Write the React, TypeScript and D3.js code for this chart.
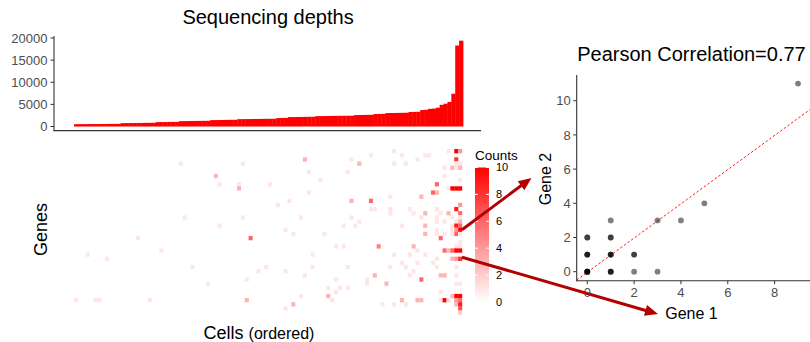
import React from 'react'
import * as d3 from 'd3'

const FONT = '"Liberation Sans", Arial, Helvetica, sans-serif'

// sequencing depth per cell, sorted ascending
const depths = [
  520, 530, 540, 545, 550, 560, 565, 570, 580, 585, 590, 600,
  760, 770, 780, 790, 800, 810, 820, 830, 840,
  990, 1000, 1010, 1030, 1040, 1050,
  1210, 1220, 1230, 1250, 1260, 1270, 1280, 1290,
  1440, 1450, 1470, 1480, 1500, 1510, 1520,
  1660, 1670, 1680, 1690, 1700, 1710, 1720, 1730, 1740, 1750,
  1910, 1930, 1950,
  2120, 2130, 2150, 2160, 2170, 2190, 2200,
  2340, 2350, 2360, 2380, 2390, 2400, 2410, 2420, 2430, 2440,
  2580, 2600, 2610, 2630, 2650,
  2820, 2840, 2860,
  3030, 3050, 3060, 3080, 3090, 3110,
  3280, 3300, 3320,
  3720, 3780, 3990, 4050, 4250, 4900, 5150, 5550, 7400, 18300, 19400,
]
const depthTicks = [0, 5000, 10000, 15000, 20000]

// non-zero heatmap cells: [cell (column), gene (row), count]
const N_CELLS = 100
const N_GENES = 40
const counts: [number, number, number][] = [
  [27, 3, 1], [28, 16, 1], [16, 21, 1], [22, 24, 1], [3, 25, 1], [8, 26, 1], [30, 28, 1],
  [0, 36, 1], [5, 36, 1], [6, 36, 1], [19, 36, 1],
  [59, 2, 3], [43, 3, 1], [60, 5, 1], [36, 6, 3], [63, 7, 1], [37, 8, 1], [42, 8, 1], [42, 9, 3],
  [50, 8, 1], [60, 10, 1], [55, 12, 1], [52, 13, 1], [43, 16, 1], [58, 16, 1], [37, 18, 1],
  [54, 19, 1], [45, 21, 6], [56, 20, 1], [64, 20, 1], [61, 25, 1], [49, 28, 1], [61, 28, 1],
  [47, 29, 1], [54, 29, 1], [59, 30, 1], [34, 32, 1], [44, 31, 1], [65, 33, 1], [65, 35, 3],
  [58, 35, 1], [44, 36, 3], [56, 37, 3], [54, 38, 1],
  [82, 0, 1], [76, 1, 1], [71, 2, 1], [73, 3, 3], [82, 3, 1], [70, 5, 1], [81, 11, 1], [71, 12, 3],
  [76, 12, 6], [76, 14, 1], [77, 14, 1], [81, 14, 1], [81, 15, 1], [71, 16, 1], [73, 17, 1],
  [69, 18, 1], [72, 18, 1], [67, 23, 1], [69, 23, 1], [78, 23, 5], [82, 25, 1], [70, 28, 1],
  [81, 28, 1], [77, 30, 3], [67, 31, 1], [75, 31, 1], [75, 32, 1], [80, 32, 3], [68, 33, 1],
  [70, 33, 1], [67, 34, 1], [66, 36, 1], [79, 37, 1], [82, 37, 1],
  [96, 0, 1], [98, 0, 10], [99, 0, 4],
  [84, 1, 1], [90, 1, 1], [91, 1, 1],
  [88, 2, 1], [98, 2, 8],
  [85, 3, 1], [98, 3, 1], [99, 3, 1],
  [95, 4, 1], [97, 4, 3], [98, 4, 1], [99, 4, 3],
  [95, 6, 1], [99, 7, 1], [93, 8, 6],
  [96, 9, 1], [97, 9, 10], [98, 9, 10], [99, 9, 10],
  [92, 10, 6], [93, 10, 3], [89, 11, 3], [99, 13, 4],
  [86, 14, 1], [93, 14, 1], [98, 14, 9],
  [87, 15, 1], [90, 15, 3], [94, 15, 1], [96, 15, 3], [99, 15, 6],
  [89, 16, 1], [93, 16, 1], [97, 16, 1], [99, 16, 1],
  [93, 17, 1], [95, 17, 1], [98, 17, 1], [99, 17, 3],
  [84, 18, 1], [90, 18, 3], [97, 18, 1], [98, 18, 9], [99, 18, 6],
  [93, 19, 1], [97, 19, 1], [98, 19, 4], [99, 19, 10],
  [90, 20, 3], [93, 20, 1], [95, 20, 1], [97, 20, 1], [98, 20, 6], [99, 20, 1],
  [94, 21, 6], [99, 22, 1],
  [87, 23, 3], [98, 23, 1], [99, 23, 1],
  [88, 24, 1], [95, 24, 6], [96, 24, 3], [97, 24, 6], [98, 24, 10], [99, 24, 10],
  [86, 25, 1], [90, 25, 1],
  [93, 26, 1], [97, 26, 3], [98, 26, 4], [99, 26, 8],
  [84, 27, 1], [88, 27, 1], [92, 27, 1],
  [85, 28, 1], [93, 28, 1], [98, 28, 1], [87, 29, 1],
  [86, 30, 1], [94, 30, 3], [95, 30, 3], [98, 30, 1],
  [89, 31, 6], [98, 32, 1], [99, 32, 1], [94, 34, 1],
  [97, 35, 3], [98, 35, 10], [99, 35, 10],
  [84, 36, 3], [88, 36, 3], [89, 36, 3], [94, 36, 1], [95, 36, 10], [96, 36, 1], [98, 36, 4], [99, 36, 6],
  [85, 37, 1], [98, 37, 3], [99, 37, 9],
  [99, 38, 7], [99, 39, 2],
]
const countTicks = [0, 2, 4, 6, 8, 10]

// expression of the two highlighted genes across cells
const gene1 = [0, 0, 0, 0, 0, 0, 0, 0, 0, 0, 1, 1, 1, 1, 1, 1, 1, 1, 1, 2, 2, 2, 3, 3, 4, 5, 9]
const gene2 = [0, 0, 0, 0, 0, 1, 1, 1, 2, 2, 0, 0, 0, 1, 1, 1, 2, 2, 3, 0, 1, 1, 0, 3, 3, 4, 11]
const geneXTicks = [0, 2, 4, 6, 8]
const geneYTicks = [0, 2, 4, 6, 8, 10]
const fitSlope = 1.0
const fitIntercept = -0.03

const ARROW = '#b30000'

function arrowHead(x1: number, y1: number, x2: number, y2: number, len = 13, half = 5.5) {
  const a = Math.atan2(y2 - y1, x2 - x1)
  const bx = x2 - len * Math.cos(a), by = y2 - len * Math.sin(a)
  const px = -Math.sin(a) * half, py = Math.cos(a) * half
  return {
    head: `M${x2},${y2}L${bx + px},${by + py}L${bx - px},${by - py}Z`,
    lineEnd: [x2 - (len - 2) * Math.cos(a), y2 - (len - 2) * Math.sin(a)],
  }
}

export default function App() {
  // depth bars
  const xb = d3.scaleBand<number>().domain(d3.range(depths.length)).range([74, 463])
  const yb = d3.scaleLinear().domain([0, 20000]).range([126.5, 38])

  // heatmap
  const xh = d3.scaleBand<number>().domain(d3.range(N_CELLS)).range([74, 462])
  const yh = d3.scaleBand<number>().domain(d3.range(N_GENES)).range([149, 314.6])
  const fill = d3.scaleLinear<string>().domain([0, 10]).range(['#ffffff', '#ff0000'])
  const ly = d3.scaleLinear().domain([0, 10]).range([302, 167.5])

  // scatter
  const sx = d3.scaleLinear().domain([0, 8]).range([587.3, 774.6])
  const sy = d3.scaleLinear().domain([0, 10]).range([271.7, 100.7])
  const pL = 576.7, pR = 810, pT = 75, pB = 280.7
  const fx0 = sx.invert(pL), fx1 = sx.invert(pR)

  const a1s: [number, number] = [xh(99)! + xh.bandwidth(), yh(19)! + yh.bandwidth() / 2]
  const a2s: [number, number] = [xh(99)! + xh.bandwidth(), yh(26)! + yh.bandwidth() / 2 - 1.5]
  const a1 = arrowHead(a1s[0], a1s[1], 531.5, 178)
  const a2 = arrowHead(a2s[0], a2s[1], 658, 314)

  const axisCol = '#333333'
  const tickCol = '#4d4d4d'

  return (
    <svg width={810} height={342} style={{ position: 'absolute', left: 0, top: 0, background: '#fff' }}
      fontFamily={FONT}>
      <defs>
        <linearGradient id="cg" x1="0" y1="1" x2="0" y2="0">
          {d3.range(0, 11).map(v => <stop key={v} offset={v / 10} stopColor={fill(v)} />)}
        </linearGradient>
        <clipPath id="panel"><rect x={pL} y={pT} width={pR - pL} height={pB - pT} /></clipPath>
      </defs>

      {/* sequencing depths */}
      <text x={268} y={23.5} fontSize={20} textAnchor="middle" fill="#000">Sequencing depths</text>
      {depths.map((d, i) => (
        <rect key={i} x={xb(i)} y={yb(d)} width={xb.bandwidth() + 0.4} height={yb(0) - yb(d)} fill="#ff0000" />
      ))}
      <line x1={54} x2={54} y1={36} y2={131} stroke={axisCol} strokeWidth={1.1} />
      <line x1={53.5} x2={481} y1={130.6} y2={130.6} stroke={axisCol} strokeWidth={1.1} />
      {depthTicks.map(t => (
        <g key={t}>
          <line x1={50.5} x2={54} y1={yb(t)} y2={yb(t)} stroke={axisCol} />
          <text x={47.5} y={yb(t)} dy="0.36em" fontSize={13} textAnchor="end" fill={tickCol}>{t}</text>
        </g>
      ))}

      {/* heatmap */}
      {counts.map(([c, g, v], i) => (
        <rect key={i} x={xh(c)} y={yh(g)} width={xh.bandwidth() + 0.2} height={yh.bandwidth() + 0.2} fill={fill(v)} />
      ))}
      <text transform="translate(46.5,229.5) rotate(-90)" fontSize={18} textAnchor="middle" fill="#000">Genes</text>
      <text x={259} y={338.5} textAnchor="middle" fill="#000">
        <tspan fontSize={18}>Cells </tspan><tspan fontSize={16}>(ordered)</tspan>
      </text>

      {/* legend */}
      <text x={475} y={160} fontSize={13.5} fill="#000">Counts</text>
      <rect x={475} y={ly(10)} width={14} height={ly(0) - ly(10)} fill="url(#cg)" />
      {countTicks.map(t => (
        <g key={t}>
          <line x1={475} x2={478} y1={ly(t)} y2={ly(t)} stroke="#fff" strokeWidth={1} />
          <line x1={486} x2={489} y1={ly(t)} y2={ly(t)} stroke="#fff" strokeWidth={1} />
          <text x={496} y={ly(t)} dy="0.36em" fontSize={11} fill="#000">{t}</text>
        </g>
      ))}

      {/* scatter */}
      <text x={691.5} y={61} fontSize={20} textAnchor="middle" fill="#000">Pearson Correlation=0.77</text>
      <line clipPath="url(#panel)" x1={sx(fx0)} y1={sy(fitIntercept + fitSlope * fx0)}
        x2={sx(fx1)} y2={sy(fitIntercept + fitSlope * fx1)} stroke="#ff0000" strokeWidth={0.9} strokeDasharray="2.5,2" />
      {gene1.map((g, i) => (
        <circle key={i} cx={sx(g)} cy={sy(gene2[i])} r={2.9} fill="#000" fillOpacity={0.5} />
      ))}
      <line x1={pL} x2={pL} y1={pT} y2={pB + 0.5} stroke={axisCol} strokeWidth={1.1} />
      <line x1={pL - 0.5} x2={pR} y1={pB} y2={pB} stroke={axisCol} strokeWidth={1.1} />
      {geneYTicks.map(t => (
        <g key={t}>
          <line x1={pL - 3.5} x2={pL} y1={sy(t)} y2={sy(t)} stroke={axisCol} />
          <text x={pL - 6} y={sy(t)} dy="0.36em" fontSize={13} textAnchor="end" fill={tickCol}>{t}</text>
        </g>
      ))}
      {geneXTicks.map(t => (
        <g key={t}>
          <line x1={sx(t)} x2={sx(t)} y1={pB} y2={pB + 3.5} stroke={axisCol} />
          <text x={sx(t)} y={pB + 16} fontSize={13} textAnchor="middle" fill={tickCol}>{t}</text>
        </g>
      ))}
      <text x={691.5} y={318.5} fontSize={16} textAnchor="middle" fill="#000">Gene 1</text>
      <text transform="translate(551,179) rotate(-90)" fontSize={16} textAnchor="middle" fill="#000">Gene 2</text>

      {/* arrows from heatmap rows to the scatter axes */}
      <line x1={a1s[0]} y1={a1s[1]} x2={a1.lineEnd[0]} y2={a1.lineEnd[1]} stroke={ARROW} strokeWidth={3} />
      <path d={a1.head} fill={ARROW} />
      <line x1={a2s[0]} y1={a2s[1]} x2={a2.lineEnd[0]} y2={a2.lineEnd[1]} stroke={ARROW} strokeWidth={3} />
      <path d={a2.head} fill={ARROW} />
    </svg>
  )
}
